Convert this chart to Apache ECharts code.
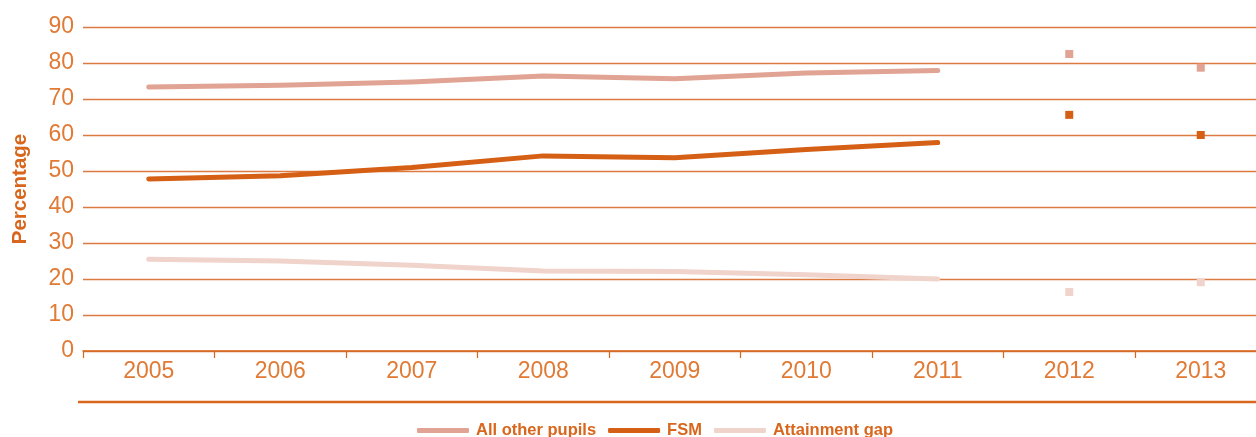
<!DOCTYPE html>
<html>
<head>
<meta charset="utf-8">
<script src="https://cdn.jsdelivr.net/npm/echarts@6/dist/echarts.min.js"></script>
<style>
  html, body { margin: 0; padding: 0; background: #ffffff; overflow: hidden; }
  /* the plot runs a little past the right edge of the page */
  #chart { width: 1268px; height: 437px; }
</style>
</head>
<body>
<div id="chart"></div>
<script>
// Years on the category axis
const years = ['2005', '2006', '2007', '2008', '2009', '2010', '2011', '2012', '2013'];

// Continuous trend 2005–2011 (null where only a point is shown)
const allOtherPupils = [73.3, 73.8, 74.7, 76.4, 75.6, 77.2, 77.9, null, null];
const fsm            = [47.8, 48.7, 51.0, 54.2, 53.7, 56.0, 57.9, null, null];
const attainmentGap  = [25.5, 25.0, 23.8, 22.2, 22.1, 21.2, 20.0, null, null];

// Later years, shown as separate markers
const allOtherPupilsLater = [null, null, null, null, null, null, null, 82.5, 78.7];
const fsmLater            = [null, null, null, null, null, null, null, 65.6, 60.0];
const attainmentGapLater  = [null, null, null, null, null, null, null, 16.4, 19.1];

const yTicks = { min: 0, max: 90, interval: 10 };

const colAll = '#e1a393';
const colFsm = '#d55f14';
const colGap = '#f0d3cb';
const orange = '#e07a35';
const dark = '#d8661c';

const chart = echarts.init(document.getElementById('chart'));

function lineSeries(name, data, color) {
  return {
    name, type: 'line', data, color,
    showSymbol: false, symbol: 'none',
    lineStyle: { width: 5, color, cap: 'round', join: 'round' },
    connectNulls: false, silent: true, animation: false, z: 3
  };
}
function pointSeries(name, data, color) {
  return {
    name, type: 'scatter', data, color,
    symbol: 'rect', symbolSize: 8,
    itemStyle: { color, opacity: 1 }, silent: true, animation: false, z: 4
  };
}

chart.setOption({
  animation: false,
  grid: { left: 83, top: 27, right: 1.5, height: 324, containLabel: false },
  xAxis: {
    type: 'category',
    data: years,
    boundaryGap: true,
    axisLine: { show: true, lineStyle: { color: dark, width: 1.5 } },
    axisTick: { show: true, alignWithLabel: false, length: 7, inside: false, lineStyle: { color: dark, width: 1.2 } },
    axisLabel: { color: orange, fontSize: 23, fontFamily: 'Liberation Sans, Arial, sans-serif', margin: 9 },
    splitLine: { show: false }
  },
  yAxis: {
    type: 'value',
    min: yTicks.min, max: yTicks.max, interval: yTicks.interval,
    name: 'Percentage',
    nameLocation: 'middle',
    nameGap: 52,
    nameTextStyle: { color: dark, fontSize: 20.5, fontWeight: 'bold', fontFamily: 'Liberation Sans, Arial, sans-serif' },
    axisLine: { show: false },
    axisTick: { show: false },
    axisLabel: { color: orange, fontSize: 23, fontFamily: 'Liberation Sans, Arial, sans-serif', margin: 9, padding: [4, 0, 0, 0] },
    splitLine: { show: true, lineStyle: { color: '#dc7a40', width: 1.4 } }
  },
  legend: {
    left: 412, top: 417,
    itemWidth: 52, itemHeight: 5, itemGap: 12,
    icon: 'roundRect',
    selectedMode: false,
    data: ['All other pupils', 'FSM', 'Attainment gap'],
    textStyle: {
      color: dark, fontSize: 16.5, fontWeight: 'bold',
      fontFamily: 'Liberation Sans, Arial, sans-serif',
      padding: [0, 0, 0, 2]
    }
  },
  graphic: [{
    type: 'line',
    shape: { x1: 78, y1: 402, x2: 1268, y2: 402 },
    style: { stroke: dark, lineWidth: 2.5 },
    silent: true
  }],
  series: [
    lineSeries('All other pupils', allOtherPupils, colAll),
    lineSeries('FSM', fsm, colFsm),
    lineSeries('Attainment gap', attainmentGap, colGap),
    pointSeries('All other pupils', allOtherPupilsLater, colAll),
    pointSeries('FSM', fsmLater, colFsm),
    pointSeries('Attainment gap', attainmentGapLater, colGap)
  ]
});
</script>
</body>
</html>
